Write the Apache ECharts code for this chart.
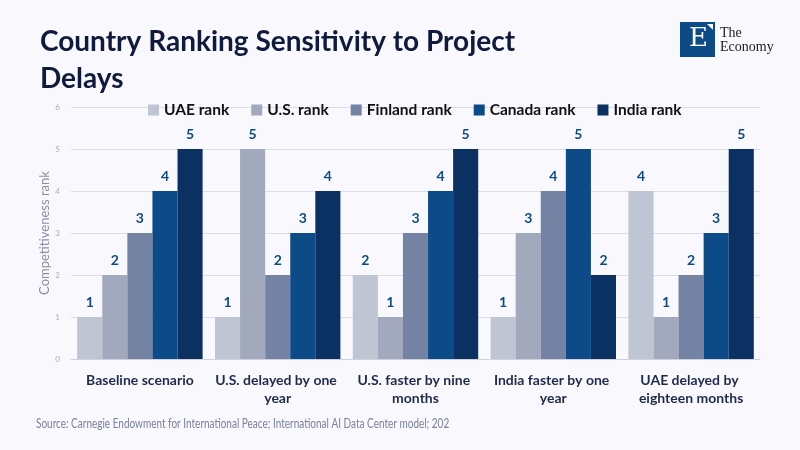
<!DOCTYPE html>
<html>
<head>
<meta charset="utf-8">
<script src="https://cdn.jsdelivr.net/npm/echarts@6/dist/echarts.min.js"></script>
<style>
  html, body { margin: 0; padding: 0; background: #f8f8fd; }
  #chart-container { width: 800px; height: 450px; }
</style>
</head>
<body>
<div id="chart-container"></div>
<script>
var myChart = echarts.init(document.getElementById('chart-container'));

// --- Data ---
const scenarios = ['Baseline scenario', 'U.S. delayed by one year', 'U.S. faster by nine months', 'India faster by one year', 'UAE delayed by eighteen months'];
const seriesNames = ['UAE rank', 'U.S. rank', 'Finland rank', 'Canada rank', 'India rank'];
const uaeRank = [1, 1, 2, 1, 4];
const usRank = [2, 5, 1, 3, 1];
const finlandRank = [3, 2, 3, 4, 2];
const canadaRank = [4, 3, 4, 5, 3];
const indiaRank = [5, 4, 5, 2, 5];
const yTicks = [0, 1, 2, 3, 4, 5, 6];

const colors = ['#bfc5d2', '#a2a9bd', '#7482a3', '#0d4a88', '#0a3161'];
const fontFamily = 'Lato, "Noto Sans", sans-serif';

const allValues = [uaeRank, usRank, finlandRank, canadaRank, indiaRank];

const option = {
    backgroundColor: '#f8f8fd',
    textStyle: { fontFamily: fontFamily },
    title: {
        text: 'Country Ranking Sensitivity to Project\nDelays',
        left: 35, top: 18,
        textStyle: { fontSize: 28, fontWeight: 'bold', color: '#0f1a3d', lineHeight: 37, fontFamily: fontFamily }
    },
    legend: {
        data: seriesNames,
        top: 97, left: 143,
        itemWidth: 11, itemHeight: 11, itemGap: 22,
        icon: 'rect',
        textStyle: { fontSize: 15.5, fontWeight: 'bold', color: '#111', fontFamily: fontFamily }
    },
    grid: { left: 71, right: 40, top: 107, bottom: 91 },
    xAxis: {
        type: 'category',
        data: scenarios,
        axisTick: { show: false },
        axisLine: { lineStyle: { color: '#cfd2dc' } },
        axisLabel: {
            interval: 0, width: 135, overflow: 'break',
            fontSize: 14, fontWeight: 'bold', color: '#1f2b4a', lineHeight: 18, margin: 12,
            fontFamily: fontFamily
        }
    },
    yAxis: {
        type: 'value',
        min: yTicks[0], max: yTicks[yTicks.length - 1], interval: 1,
        name: 'Competitiveness rank',
        nameLocation: 'middle', nameGap: 20, nameMoveOverlap: false,
        nameTextStyle: { fontSize: 13, color: '#8a90a2', fontFamily: fontFamily },
        axisLabel: { fontSize: 8, color: '#a8aec0', margin: 11 },
        splitLine: { lineStyle: { color: '#dcdde6' } }
    },
    series: seriesNames.map((name, i) => ({
        name: name,
        type: 'bar',
        data: allValues[i],
        barGap: '0%',
        barCategoryGap: '9%',
        itemStyle: { color: colors[i] },
        label: {
            show: true, position: 'top', distance: 8,
            fontSize: 14, fontWeight: 'bold', color: '#0d4a88', fontFamily: fontFamily
        }
    })),
    graphic: [
        {
            type: 'text', x: 36, y: 417, scaleX: 0.8,
            style: { text: 'Source: Carnegie Endowment for International Peace; International AI Data Center model; 202', fontSize: 12.5, fill: '#7a8296', fontFamily: fontFamily }
        },
        { type: 'rect', left: 680, top: 22, shape: { width: 35, height: 35 }, style: { fill: '#0d4a88' } },
        { type: 'polygon', shape: { points: [[707, 24], [713, 24], [713, 30]] }, style: { fill: '#ffffff' } },
        {
            type: 'text', left: 689, top: 26,
            style: { text: 'E', fontSize: 26, fill: '#ffffff', fontFamily: 'DejaVu Serif, serif' }
        },
        {
            type: 'text', left: 720, top: 26,
            style: { text: 'The\nEconomy', fontSize: 14, lineHeight: 14, fill: '#222', fontFamily: '"Liberation Serif", serif' }
        }
    ]
};

myChart.setOption(option);

window.addEventListener('resize', function() {
    myChart.resize();
});
</script>
</body>
</html>
